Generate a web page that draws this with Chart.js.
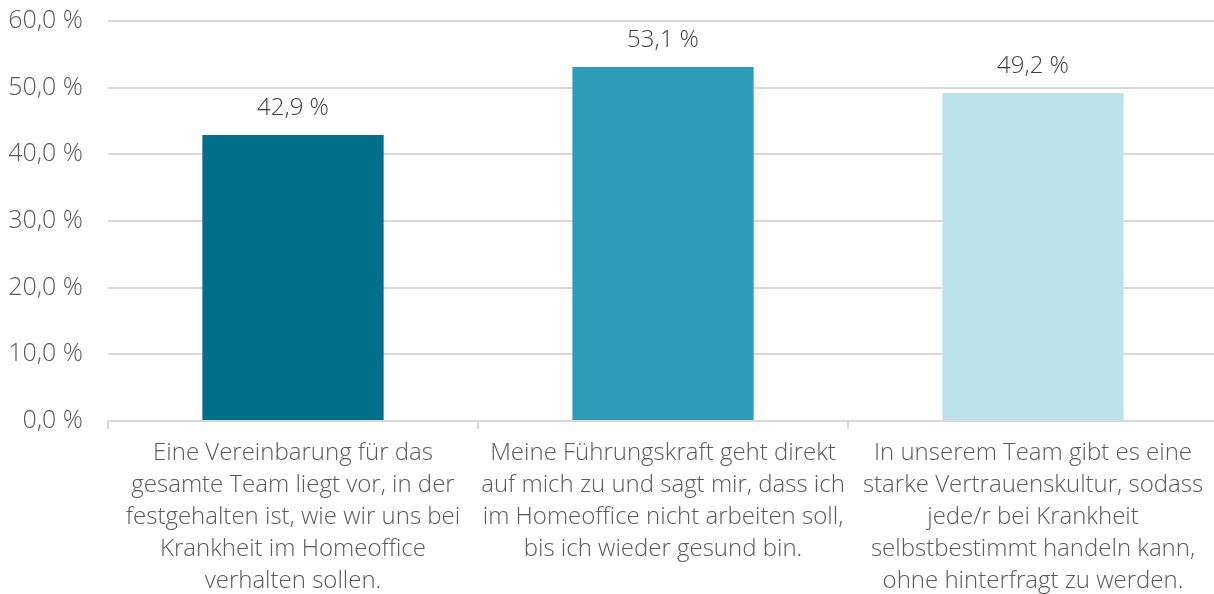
<!DOCTYPE html>
<html>
<head>
<meta charset="utf-8">
<script src="https://cdn.jsdelivr.net/npm/chart.js@4"></script>
<style>
  html, body { margin: 0; padding: 0; background: #ffffff; overflow: hidden; }
  #wrap { width: 1218px; height: 594px; }
</style>
</head>
<body>
<div id="wrap"><canvas id="chart"></canvas></div>
<script>
var categories = [
    ['Eine Vereinbarung für das', 'gesamte Team liegt vor, in der', 'festgehalten ist, wie wir uns bei', 'Krankheit im Homeoffice', 'verhalten sollen.'],
    ['Meine Führungskraft geht direkt', 'auf mich zu und sagt mir, dass ich', 'im Homeoffice nicht arbeiten soll,', 'bis ich wieder gesund bin.'],
    ['In unserem Team gibt es eine', 'starke Vertrauenskultur, sodass', 'jede/r bei Krankheit', 'selbstbestimmt handeln kann,', 'ohne hinterfragt zu werden.']
];
var values = [42.9, 53.1, 49.2];
var barColors = ['#006f8a', '#2e9cb8', '#bde2ea'];
var yTicks = [0, 10, 20, 30, 40, 50, 60];

function fmt(v) {
    return v.toFixed(1).replace('.', ',') + ' %';
}

var valueLabels = {
    id: 'valueLabels',
    afterDatasetsDraw: function (chart) {
        var ctx = chart.ctx;
        var meta = chart.getDatasetMeta(0);
        ctx.save();
        ctx.font = '300 24px "Open Sans"';
        ctx.fillStyle = '#404040';
        ctx.textAlign = 'center';
        ctx.textBaseline = 'middle';
        meta.data.forEach(function (bar, i) {
            ctx.fillText(fmt(values[i]), bar.x, bar.y - 27);
        });
        ctx.restore();
    }
};

var ctx = document.getElementById('chart').getContext('2d');
var myChart = new Chart(ctx, {
    type: 'bar',
    data: {
        labels: categories,
        datasets: [{
            data: values,
            backgroundColor: barColors,
            barPercentage: 0.49,
            categoryPercentage: 1.0
        }]
    },
    options: {
        responsive: true,
        maintainAspectRatio: false,
        animation: false,
        layout: { autoPadding: false, padding: 0 },
        plugins: {
            legend: { display: false },
            tooltip: { enabled: false }
        },
        scales: {
            x: {
                grid: {
                    offset: true,
                    drawOnChartArea: false,
                    drawTicks: true,
                    tickLength: 8,
                    color: '#d9d9d9',
                    lineWidth: 2
                },
                border: { display: true, color: '#d9d9d9', width: 2 },
                ticks: {
                    color: '#595959',
                    font: { family: '"Open Sans"', size: 24, weight: 300, lineHeight: 1.333 },
                    maxRotation: 0,
                    autoSkip: false,
                    padding: 8
                },
                afterFit: function (scale) {
                    scale.paddingLeft = 0;
                    scale.paddingRight = 0;
                    scale.height = 173;
                }
            },
            y: {
                min: 0,
                max: 60,
                afterBuildTicks: function (axis) {
                    axis.ticks = yTicks.map(function (v) { return { value: v }; });
                },
                afterFit: function (scale) {
                    scale.width = 108;
                    scale.paddingTop = 21;
                    scale.paddingBottom = 0;
                },
                grid: {
                    color: '#d9d9d9',
                    lineWidth: 2,
                    drawTicks: false
                },
                border: { display: false },
                ticks: {
                    color: '#595959',
                    font: { family: '"Open Sans"', size: 25, weight: 300 },
                    padding: 25,
                    callback: function (v) { return fmt(v); }
                }
            }
        }
    },
    plugins: [valueLabels]
});
</script>
</body>
</html>
